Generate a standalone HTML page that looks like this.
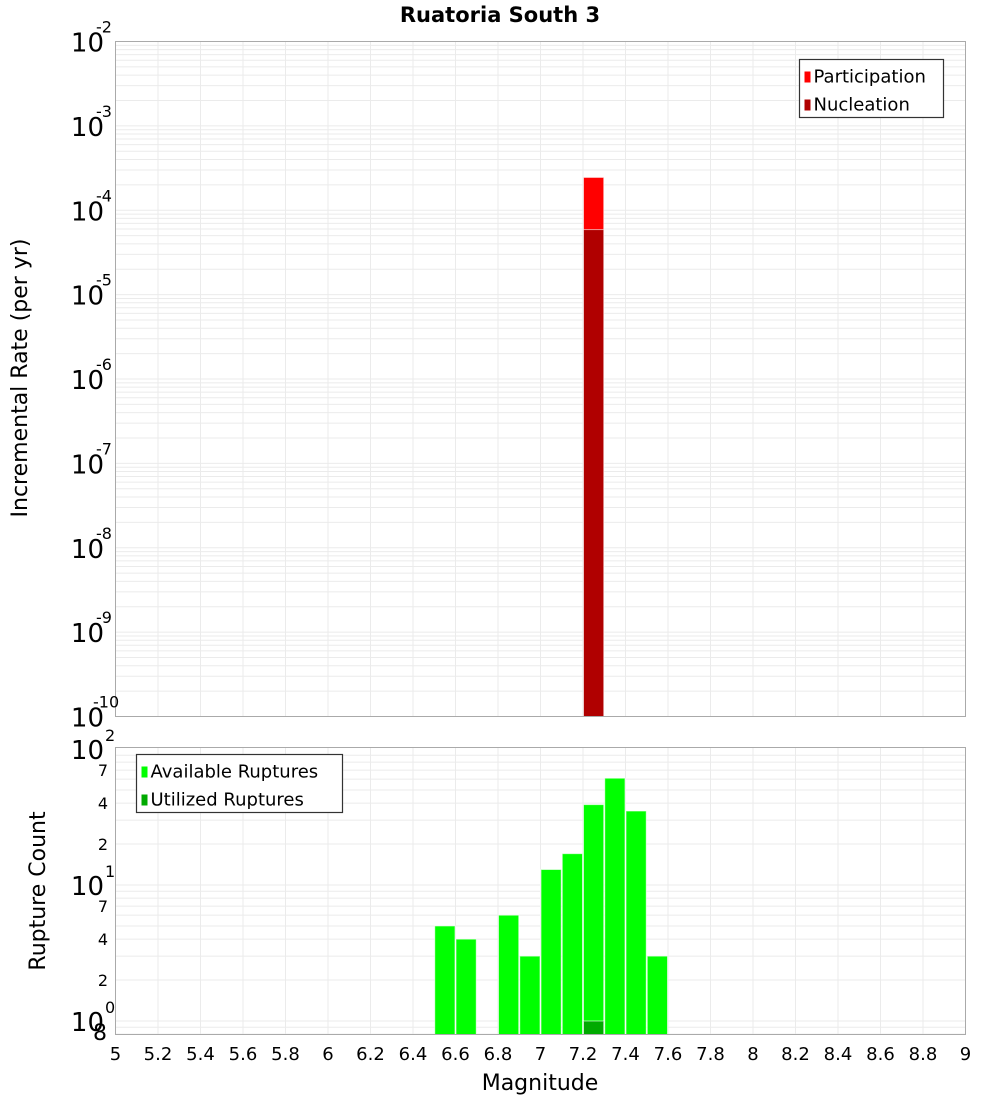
<!DOCTYPE html>
<html><head><meta charset="utf-8"><style>
body{margin:0;background:#fff;font-family:"DejaVu Sans","Liberation Sans",sans-serif}
svg text{font-family:"DejaVu Sans","Liberation Sans",sans-serif}
</style></head><body>
<svg id="c" width="1000" height="1100" viewBox="0 0 1000 1100" xmlns="http://www.w3.org/2000/svg">
<text x="500" y="22" text-anchor="middle" font-size="21" font-weight="bold">Ruatoria South 3</text>
<g id="topplot"></g>
<g id="botplot"></g>
<text transform="translate(27,378) rotate(-90)" text-anchor="middle" font-size="22">Incremental Rate (per yr)</text>
<text transform="translate(45,891) rotate(-90)" text-anchor="middle" font-size="22">Rupture Count</text>
<text x="540" y="1090" text-anchor="middle" font-size="22">Magnitude</text>
</svg>
<script>
const partMags=[7.2];
const partVals=[2.45e-4];
const nuclMags=[7.2];
const nuclVals=[5.9e-5];
const availMags=[6.5,6.6,6.8,6.9,7.0,7.1,7.2,7.3,7.4,7.5];
const availVals=[5,4,6,3,13,17,39,61,35,3];
const utilMags=[7.2];
const utilVals=[1];
const xTicks=[5,5.2,5.4,5.6,5.8,6,6.2,6.4,6.6,6.8,7,7.2,7.4,7.6,7.8,8,8.2,8.4,8.6,8.8,9];

const NS='http://www.w3.org/2000/svg';
const L=115.5,R=965.5;
const X=m=>L+(m-5)/4*(R-L);
function el(p,t,a){const e=document.createElementNS(NS,t);for(const k in a)e.setAttribute(k,a[k]);p.appendChild(e);return e;}
const T1=41.5,B1=716.5; const Y1=v=>T1+(-2-Math.log10(v))/8*(B1-T1);
const D2=136, Y2=v=>1021-Math.log10(v)*D2; const T2=747.5,B2=1034.5;
const topG=document.getElementById('topplot'),botG=document.getElementById('botplot');

function grid(g,T,B,Yf,lo,hi){
  for(let d=lo;d<hi;d++)for(let k=1;k<10;k++){const v=k*Math.pow(10,d);const y=Yf(v);if(y<T-0.5||y>B+0.5)continue;
    const l=el(g,'line',{x1:L,x2:R,y1:y,y2:y,stroke:'#ebebeb','stroke-width':1});
    
    }
  xTicks.forEach(m=>{const l=el(g,'line',{x1:X(m),x2:X(m),y1:T,y2:B,stroke:'#ebebeb','stroke-width':1});
    
    });
}
grid(topG,T1,B1,Y1,-10,-2);
grid(botG,T2,B2,Y2,-1,2);

function bars(g,mags,vals,Yf,B,fill,name){
  mags.forEach((m,i)=>{const x0=X(m),x1=X(m+0.1),y=Yf(vals[i]);
    const r=el(g,'rect',{x:x0+0.5,y:y,width:x1-x0-1,height:B-y,fill:fill,stroke:'#fff','stroke-opacity':0.6,'stroke-width':1});
    
    });
}
bars(topG,partMags,partVals,Y1,B1,'#ff0000','participation-bar');
bars(topG,nuclMags,nuclVals,Y1,B1,'#b00000','nucleation-bar');
bars(botG,availMags,availVals,Y2,B2,'#00ff00','available-bar');
bars(botG,utilMags,utilVals,Y2,B2,'#00aa00','utilized-bar');

[[topG,T1,B1],[botG,T2,B2]].forEach(([g,T,B])=>{const r=el(g,'rect',{x:L,y:T,width:R-L,height:B-T,fill:'none',stroke:'#aaa','stroke-width':1});
  
  });

for(let d=-10;d<=-2;d++){const y=Y1(Math.pow(10,d));
  const t=el(topG,'text',{x:104,y:y+10,'text-anchor':'end','font-size':26});t.textContent='10';
  
  
  const s=el(topG,'text',{x:d<=-10?93:96,y:y-9,'font-size':16});s.textContent=String(d);
  
  }
[[0,'0'],[1,'1'],[2,'2']].forEach(([d,e])=>{const y=Y2(Math.pow(10,d));
  const t=el(botG,'text',{x:104,y:y+10,'text-anchor':'end','font-size':26});t.textContent='10';
  
  
  const s=el(botG,'text',{x:105,y:y-8,'font-size':16});s.textContent=e;
  
  });
[[2,'2'],[4,'4'],[7,'7'],[20,'2'],[40,'4'],[70,'7'],[0.8,'8']].forEach(([v,s])=>{const y=Y2(v);
  const t=el(botG,'text',{x:v<1?107:108,y:y+6,'text-anchor':'end','font-size':v<1?22:16});t.textContent=s;
  
  });
xTicks.forEach(m=>{const t=el(botG,'text',{x:X(m),y:1060,'text-anchor':'middle','font-size':18});t.textContent=String(m);
  
  });

function legend(g,x,y,w,items,name){
  const G=el(g,'g',{});
  
  
  el(G,'rect',{x:x,y:y,width:w,height:58,fill:'#fff',stroke:'#333','stroke-width':1.2});
  items.forEach(([c,l],i)=>{const r=el(G,'rect',{x:x+5,y:y+12+i*28,width:6,height:11,fill:c});
    
    
    const t=el(G,'text',{x:x+14,y:y+23+i*28,'font-size':18});t.textContent=l;
    
    });
}
legend(topG,799.5,59.5,144,[['#ff0000','Participation'],['#b00000','Nucleation']],'rate-legend');
legend(botG,136.5,754.5,206,[['#00ff00','Available Ruptures'],['#00aa00','Utilized Ruptures']],'count-legend');
</script>
</body></html>
